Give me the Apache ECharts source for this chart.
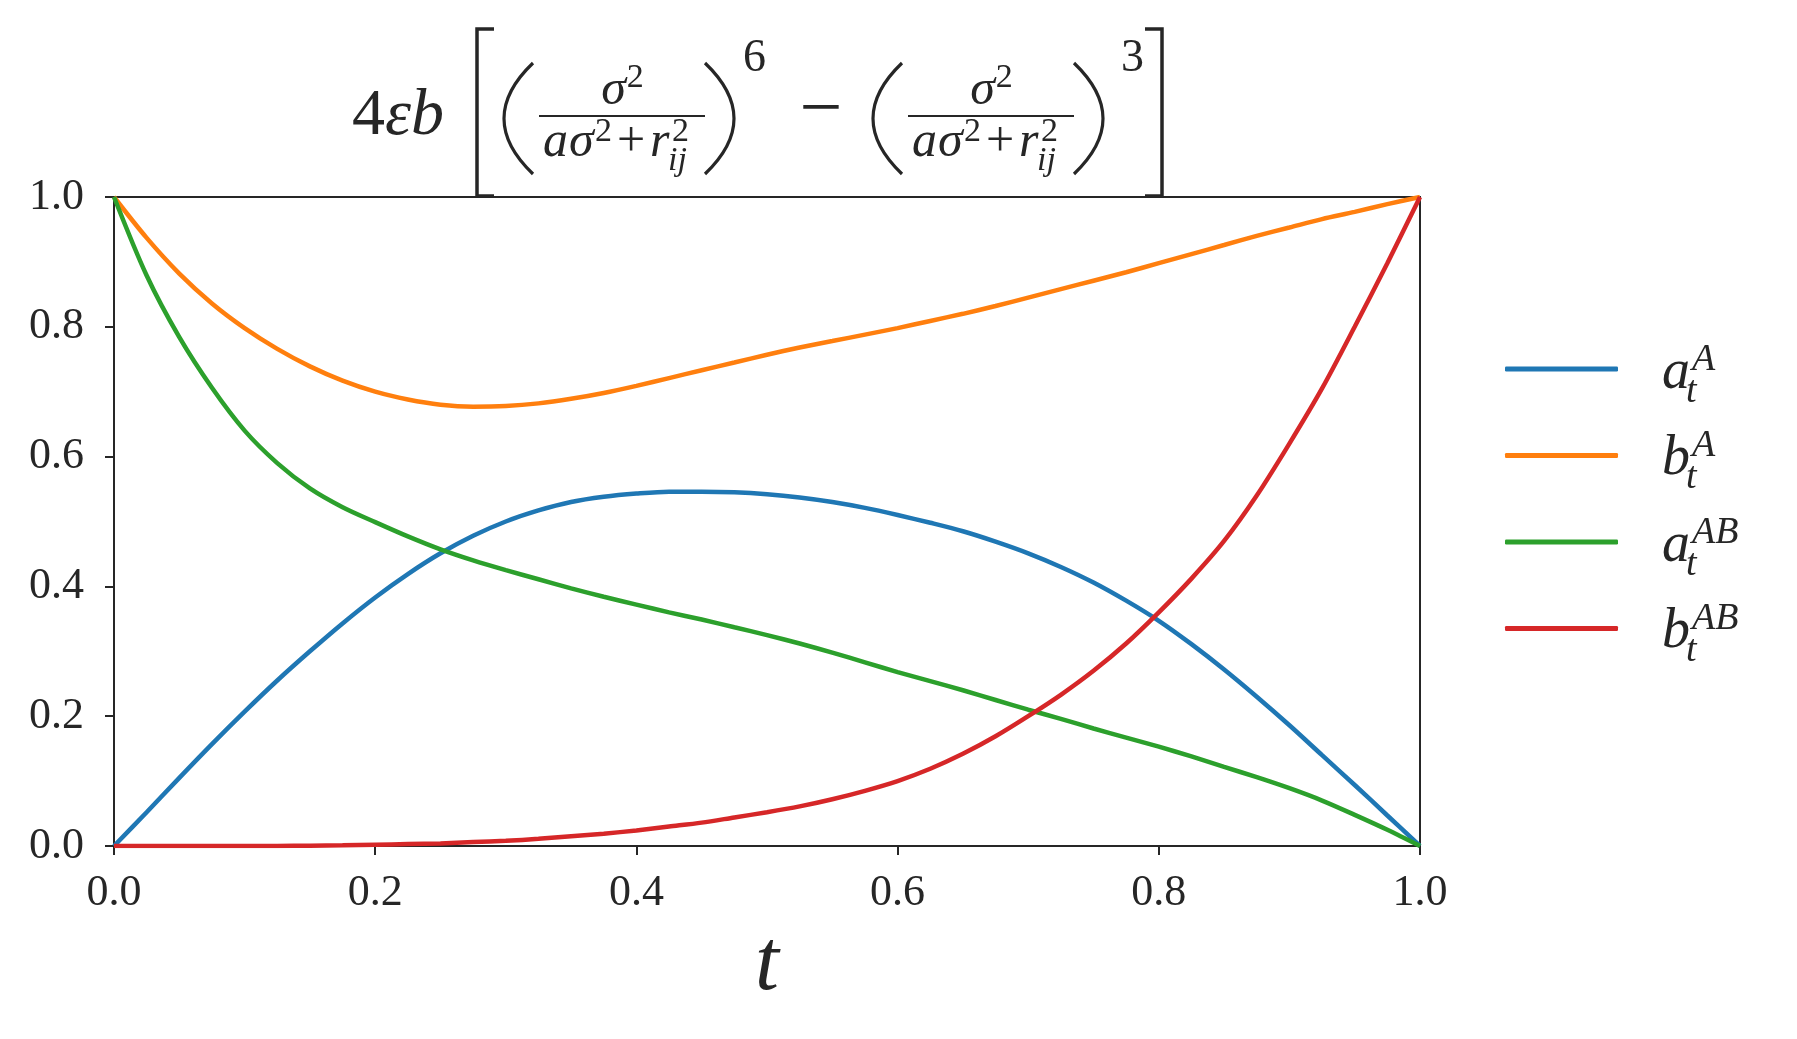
<!DOCTYPE html>
<html><head><meta charset="utf-8">
<script src="https://cdn.jsdelivr.net/npm/echarts@6/dist/echarts.min.js"></script>
<style>html,body{margin:0;padding:0;background:#fff}#c{width:1797px;height:1039px}</style>
</head><body><div id="c"></div>
<script>
// ---- data, t = 0, 0.025, ..., 1 ----
const tValues = [0,0.025,0.05,0.075,0.1,0.125,0.15,0.175,0.2,0.225,0.25,0.275,0.3,0.325,0.35,0.375,0.4,0.425,0.45,0.475,0.5,
                 0.525,0.55,0.575,0.6,0.625,0.65,0.675,0.7,0.725,0.75,0.775,0.8,0.825,0.85,0.875,0.9,0.925,0.95,0.975,1.0];
const aA  = [0,0.052,0.105,0.157,0.207,0.255,0.300,0.343,0.383,0.419,0.451,0.478,0.500,0.517,0.530,0.538,0.543,0.546,0.546,0.545,0.542,
             0.537,0.530,0.521,0.510,0.498,0.485,0.469,0.451,0.430,0.406,0.378,0.347,0.311,0.272,0.230,0.186,0.140,0.094,0.047,0];
const bA  = [1.000,0.937,0.882,0.836,0.798,0.766,0.739,0.717,0.700,0.688,0.680,0.677,0.678,0.682,0.689,0.698,0.709,0.721,0.733,0.745,0.757,
             0.768,0.778,0.788,0.798,0.809,0.820,0.832,0.845,0.858,0.871,0.884,0.898,0.912,0.926,0.940,0.953,0.966,0.977,0.989,1.000];
const aAB = [1.000,0.879,0.784,0.706,0.640,0.590,0.551,0.522,0.499,0.477,0.457,0.440,0.425,0.411,0.397,0.384,0.372,0.360,0.349,0.337,0.325,
             0.312,0.298,0.283,0.268,0.254,0.240,0.225,0.210,0.196,0.181,0.167,0.153,0.138,0.122,0.106,0.089,0.070,0.048,0.025,0];
const bAB = [0,0,0,0,0,0,0.0005,0.001,0.002,0.003,0.004,0.006,0.008,0.011,0.015,0.019,0.024,0.030,0.036,0.044,0.052,
             0.061,0.072,0.085,0.100,0.119,0.142,0.169,0.200,0.233,0.270,0.312,0.360,0.412,0.470,0.540,0.620,0.705,0.800,0.898,1.000];
const seriesNames = ['a_t^A','b_t^A','a_t^AB','b_t^AB'];
const legendMain = ['a','b','a','b'];
const legendSup = ['A','A','AB','AB'];
const legendSub = ['t','t','t','t'];
const colors = ['#1f77b4','#ff7f0e','#2ca02c','#d62728'];

const FONT = "'Liberation Serif', 'DejaVu Serif', serif";
const INK = '#262626';
const cv = document.createElement('canvas').getContext('2d');
function w(str, size, it){ cv.font = (it?'italic ':'') + size + 'px ' + FONT; return cv.measureText(str).width; }
const BOFF = 0.27;
function T(x, base, str, size, it, align){
  return {type:'text', x: x, y: base - BOFF*size, silent:true,
    style:{text:str, fontSize:size, fontFamily:FONT, fontStyle: it?'italic':'normal', fill:INK,
      align: align||'left', verticalAlign:'middle'}};
}
function L(x1,y1,x2,y2,lw){ return {type:'line', silent:true, shape:{x1,y1,x2,y2}, style:{stroke:INK, lineWidth:lw||2}}; }

const g = [];
// ---- title formula ----
g.push(T(352, 134, '4', 66, false));
g.push(T(352 + w('4',66,false), 134, 'εb', 66, true));
// brackets
g.push({type:'polyline', silent:true, shape:{points:[[494,29],[477,29],[477,196],[494,196]]}, style:{stroke:INK, lineWidth:3.5, fill:null}});
g.push({type:'polyline', silent:true, shape:{points:[[1145,29],[1162,29],[1162,196],[1145,196]]}, style:{stroke:INK, lineWidth:3.5, fill:null}});
function fracGroup(dx){
  // parens
  g.push({type:'bezierCurve', silent:true, shape:{x1:533+dx,y1:63,x2:533+dx,y2:174,cpx1:475+dx,cpy1:118.5}, style:{stroke:INK,lineWidth:3.2,fill:null}});
  g.push({type:'bezierCurve', silent:true, shape:{x1:705+dx,y1:63,x2:705+dx,y2:174,cpx1:763+dx,cpy1:118.5}, style:{stroke:INK,lineWidth:3.2,fill:null}});
  // bar
  g.push(L(539+dx,116,705+dx,116,2));
  // numerator
  const wn = w('σ',50,true) + w('2',34,false);
  const nx = 622 + dx - wn/2;
  g.push(T(nx, 104, 'σ', 50, true));
  g.push(T(nx + w('σ',50,true) + 1, 87, '2', 34, false));
  // denominator
  g.push(T(543+dx, 156, 'a', 50, true));
  g.push(T(569+dx, 156, 'σ', 50, true));
  g.push(T(595+dx, 141, '2', 34, false));
  g.push(T(617+dx, 156, '+', 50, false));
  g.push(T(650+dx, 156, 'r', 50, true));
  g.push(T(672+dx, 141, '2', 34, false));
  g.push(T(668+dx, 170, 'ij', 34, true));
}
fracGroup(0);
fracGroup(369);
g.push(T(743, 71, '6', 46, false));
g.push(T(1121, 71, '3', 46, false));
g.push(T(821, 133, '−', 76, false, 'center'));

// ---- legend labels ----
for (let i = 0; i < 4; i++) {
  const ly = 369 + 86.5*i;
  const wm = w(legendMain[i], 56, true);
  g.push(T(1662, ly + 19, legendMain[i], 56, true));
  g.push(T(1662 + wm + 2, ly + 1, legendSup[i], 38, true));
  g.push(T(1662 + wm - 4, ly + 33, legendSub[i], 38, true));
}

const mk = (arr) => tValues.map((t, i) => [t, arr[i]]);
const allData = [aA, bA, aAB, bAB];

const chart = echarts.init(document.getElementById('c'), null, {renderer:'canvas'});
chart.setOption({
  animation:false,
  backgroundColor:'#ffffff',
  grid:{left:114, top:197, width:1306, height:649, show:true, borderColor:INK, borderWidth:2, backgroundColor:'transparent'},
  xAxis:{type:'value', min:0, max:1, interval:0.2,
    axisLine:{show:true, onZero:false, lineStyle:{color:INK, width:2}},
    axisTick:{show:true, length:9, lineStyle:{color:INK, width:2}},
    axisLabel:{formatter:(v)=>v.toFixed(1), fontFamily:FONT, fontSize:44, color:INK, margin:25},
    splitLine:{show:false},
    name:'t', nameLocation:'middle', nameGap:77,
    nameTextStyle:{fontFamily:FONT, fontSize:86, fontStyle:'italic', color:INK}},
  yAxis:{type:'value', min:0, max:1, interval:0.2,
    axisLine:{show:true, onZero:false, lineStyle:{color:INK, width:2}},
    axisTick:{show:true, length:9, lineStyle:{color:INK, width:2}},
    axisLabel:{formatter:(v)=>v.toFixed(1), fontFamily:FONT, fontSize:44, color:INK, margin:30},
    splitLine:{show:false}},
  legend:{orient:'vertical', left:1505, top:366.5, padding:0, icon:'roundRect', itemWidth:113, itemHeight:5, itemGap:81.5,
    data:seriesNames, selectedMode:false, formatter:()=>' ', textStyle:{fontSize:4, lineHeight:5}},
  series: seriesNames.map((n, i) => ({
    name:n, type:'line', data: mk(allData[i]), symbol:'none', showSymbol:false,
    smooth:0.3, clip:true,
    lineStyle:{color:colors[i], width:4.5}, itemStyle:{color:colors[i]}, z: 2+i,
    emphasis:{disabled:true}
  })),
  graphic: g
});
</script></body></html>
